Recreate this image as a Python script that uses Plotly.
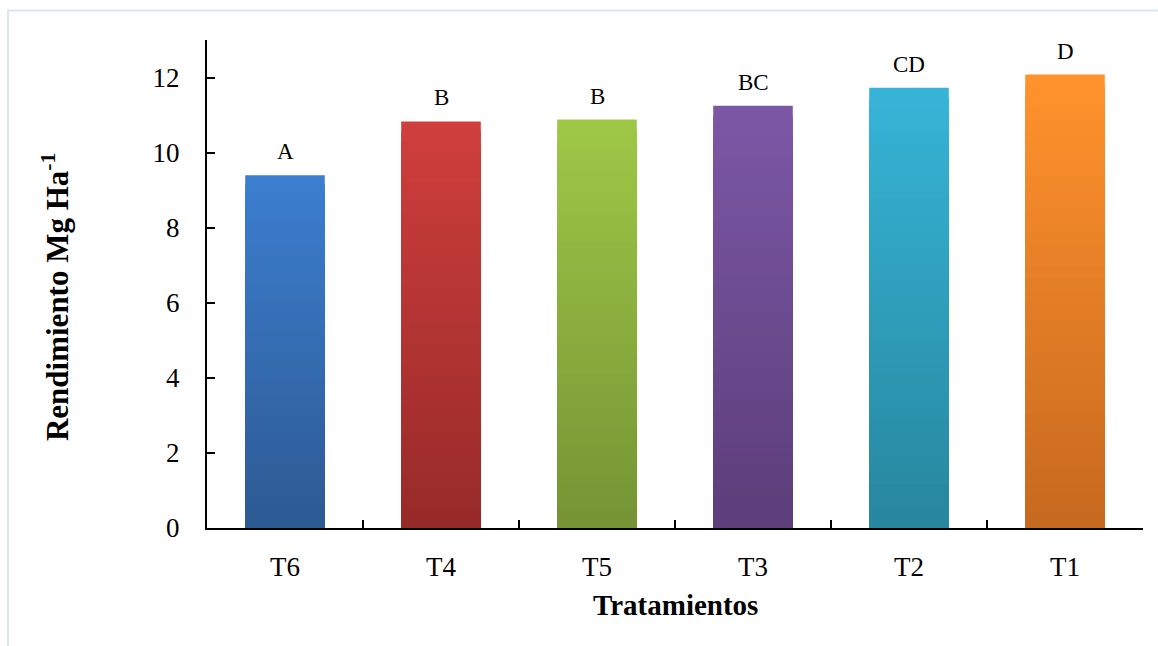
import plotly.graph_objects as go

categories = ["T6", "T4", "T5", "T3", "T2", "T1"]
values = [9.4, 10.83, 10.88, 11.25, 11.73, 12.08]
letters = ["A", "B", "B", "BC", "CD", "D"]
top_colors = ["#3c7ed0", "#cf3e3c", "#9fc746", "#7c57a6", "#36b4d7", "#ff922c"]
bottom_colors = ["#2d5a93", "#972b29", "#769435", "#5c3e7a", "#27879e", "#c7691f"]
y_ticks = [0, 2, 4, 6, 8, 10, 12]


def hex_to_rgb(h):
    h = h.lstrip("#")
    return tuple(int(h[i:i + 2], 16) for i in (0, 2, 4))


def mix(c1, c2, t):
    a, b = hex_to_rgb(c1), hex_to_rgb(c2)
    return "rgb(%d,%d,%d)" % tuple(round(a[i] + (b[i] - a[i]) * t) for i in range(3))


fig = go.Figure()
N = 40
for k in range(N):
    frac = 1 - k / N
    t = k / (N - 1)
    fig.add_trace(go.Bar(
        x=categories,
        y=[v * frac for v in values],
        marker=dict(color=[mix(tc, bc, t) for tc, bc in zip(top_colors, bottom_colors)],
                    line=dict(width=0)),
        width=0.51,
        showlegend=False,
        hoverinfo="skip",
    ))

for c, v, l in zip(categories, values, letters):
    fig.add_annotation(x=c, y=v, text=l, showarrow=False, yanchor="bottom", yshift=9,
                       font=dict(family="Liberation Serif", size=23, color="black"))

fig.add_annotation(x=0.5, y=-0.158, xref="paper", yref="paper", text="<b>Tratamientos</b>",
                   showarrow=False, yanchor="middle",
                   font=dict(family="Liberation Serif", size=29, color="black"))
fig.add_annotation(x=-0.162, y=0.474, xref="paper", yref="paper",
                   text="<b>Rendimiento Mg Ha<sup>-1</sup></b>", textangle=-90,
                   showarrow=False, xanchor="center", yanchor="middle",
                   font=dict(family="Liberation Serif", size=31, color="black"))

fig.add_shape(type="rect", xref="paper", yref="paper", x0=-0.2126, x1=1.2, y0=-0.4, y1=1.0605,
              line=dict(color="#d9e3f2", width=2), fillcolor="rgba(0,0,0,0)", layer="below")

fig.update_layout(
    width=1158, height=646,
    barmode="overlay",
    paper_bgcolor="white", plot_bgcolor="white",
    margin=dict(l=207, r=15, t=40, b=118),
    font=dict(family="Liberation Serif", size=27, color="black"),
    xaxis=dict(showline=True, linecolor="black", linewidth=2, ticks="inside", ticklen=8,
               tickwidth=2, tickcolor="black", tickson="boundaries", showgrid=False,
               ticklabelstandoff=14,
               tickfont=dict(family="Liberation Serif", size=27, color="black")),
    yaxis=dict(range=[0, 13], showline=True, linecolor="black", linewidth=2, ticks="inside",
               ticklen=8, tickwidth=2, tickcolor="black", tickvals=y_ticks, showgrid=False,
               zeroline=False, ticklabelstandoff=20,
               tickfont=dict(family="Liberation Serif", size=27, color="black")),
)

fig.write_html("out.html")
